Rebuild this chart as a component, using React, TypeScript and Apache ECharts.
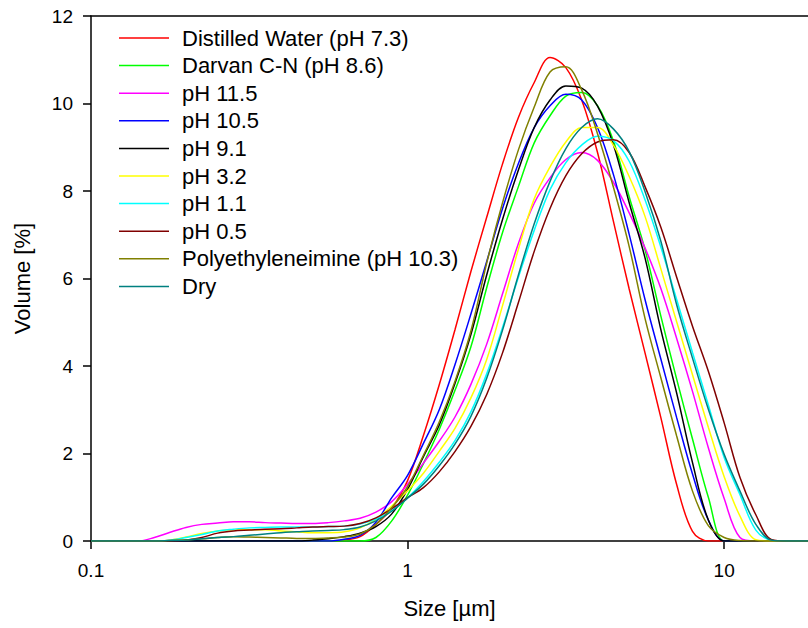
import React, { useEffect, useRef } from "react";
import * as echarts from "echarts";

// particle size grid (µm)
const sizes = [
  0.1, 0.1122, 0.1259, 0.1413, 0.1585, 0.1778, 0.1995, 0.2239, 0.2512, 0.2818,
  0.3162, 0.3548, 0.3981, 0.4467, 0.5012, 0.5623, 0.631, 0.7079, 0.7943, 0.8913,
  1, 1.122, 1.259, 1.413, 1.585, 1.778, 1.995, 2.239, 2.512, 2.818,
  3.162, 3.548, 3.981, 4.467, 5.012, 5.623, 6.31, 7.079, 7.943, 8.913,
  10, 11.22, 12.59, 14.13, 15.85, 17.78, 18.4,
];

const distilledWater = [
  0, 0, 0, 0, 0, 0, 0, 0, 0, 0,
  0, 0, 0, 0, 0, 0, 0.02, 0.1, 0.38, 0.75,
  1.38, 2.41, 3.57, 4.84, 6.16, 7.4, 8.62, 9.68, 10.48, 11.05,
  10.82, 10.08, 8.88, 7.31, 5.76, 4.3, 2.82, 1.29, 0.22, 0,
  0, 0, 0, 0, 0, 0, 0,
];
const darvan = [
  0, 0, 0, 0, 0, 0, 0, 0, 0, 0,
  0, 0, 0, 0, 0, 0, 0, 0, 0.08, 0.46,
  1.05, 1.77, 2.55, 3.45, 4.44, 5.79, 7.05, 8.1, 9.1, 9.72,
  10.17, 10.25, 9.95, 9.15, 7.87, 6.66, 5.14, 3.7, 2.33, 1.0,
  0, 0, 0, 0, 0, 0, 0,
];
const ph115 = [
  0, 0, 0, 0, 0.08, 0.2, 0.31, 0.38, 0.41, 0.44,
  0.44, 0.42, 0.41, 0.4, 0.4, 0.42, 0.46, 0.52, 0.66, 0.9,
  1.3, 1.78, 2.28, 2.84, 3.58, 4.5, 5.65, 6.8, 7.72, 8.3,
  8.72, 8.88, 8.7, 8.2, 7.5, 6.7, 5.77, 4.63, 3.42, 2.13,
  0.97, 0.08, 0, 0, 0, 0, 0,
];
const ph105 = [
  0, 0, 0, 0, 0, 0, 0, 0, 0, 0,
  0, 0, 0, 0, 0, 0, 0.04, 0.13, 0.43, 0.99,
  1.5, 2.23, 3.0, 4.04, 5.19, 6.39, 7.6, 8.63, 9.45, 9.95,
  10.21, 10.08, 9.45, 8.38, 7.01, 5.52, 4.16, 2.82, 1.53, 0.48,
  0, 0, 0, 0, 0, 0, 0,
];
const ph91 = [
  0, 0, 0, 0, 0, 0, 0, 0, 0, 0,
  0, 0, 0, 0, 0.02, 0.05, 0.1, 0.18, 0.33, 0.62,
  1.18, 1.93, 2.65, 3.61, 4.72, 6.08, 7.35, 8.48, 9.45, 10.08,
  10.4, 10.35, 9.94, 9.06, 7.73, 6.47, 4.83, 3.38, 1.79, 0.48,
  0, 0, 0, 0, 0, 0, 0,
];
const ph32 = [
  0, 0, 0, 0, 0, 0.02, 0.09, 0.17, 0.23, 0.26,
  0.26, 0.26, 0.23, 0.21, 0.19, 0.19, 0.21, 0.3, 0.5, 0.8,
  1.15, 1.55, 2.05, 2.58, 3.27, 4.15, 5.38, 6.67, 7.82, 8.55,
  9.12, 9.45, 9.45, 9.05, 8.33, 7.42, 6.22, 5.01, 3.8, 2.6,
  1.47, 0.57, 0.03, 0, 0, 0, 0,
];
const ph11 = [
  0, 0, 0, 0, 0, 0.02, 0.08, 0.15, 0.23, 0.27,
  0.3, 0.31, 0.32, 0.32, 0.32, 0.33, 0.34, 0.39, 0.5, 0.7,
  0.99, 1.36, 1.8, 2.3, 2.95, 3.82, 4.88, 6.03, 7.1, 8.03,
  8.65, 9.05, 9.25, 9.15, 8.68, 7.8, 6.72, 5.52, 4.31, 3.11,
  1.91, 1.06, 0.25, 0.02, 0, 0, 0,
];
const ph05 = [
  0, 0, 0, 0, 0, 0, 0.02, 0.08, 0.18, 0.23,
  0.25, 0.27, 0.28, 0.3, 0.32, 0.33, 0.34, 0.4, 0.53, 0.74,
  0.99, 1.22, 1.58, 2.05, 2.62, 3.35, 4.3, 5.45, 6.62, 7.6,
  8.35, 8.85, 9.12, 9.17, 8.88, 8.1, 7.17, 6.03, 4.91, 3.88,
  2.7, 1.45, 0.6, 0.03, 0, 0, 0,
];
const pei = [
  0, 0, 0, 0, 0, 0.01, 0.03, 0.05, 0.08, 0.1,
  0.09, 0.08, 0.07, 0.06, 0.06, 0.07, 0.09, 0.16, 0.38, 0.76,
  1.24, 1.96, 2.72, 3.66, 4.8, 6.35, 7.73, 8.94, 9.92, 10.72,
  10.84, 10.31, 9.31, 8.09, 6.73, 5.09, 3.73, 2.4, 1.14, 0.35,
  0.08, 0.01, 0, 0, 0, 0, 0,
];
const dry = [
  0, 0, 0, 0, 0, 0.01, 0.02, 0.05, 0.08, 0.1,
  0.13, 0.16, 0.19, 0.21, 0.23, 0.24, 0.26, 0.32, 0.46, 0.68,
  0.98, 1.3, 1.72, 2.22, 2.85, 3.72, 4.82, 6.08, 7.25, 8.22,
  8.97, 9.45, 9.65, 9.42, 8.9, 7.99, 6.85, 5.4, 4.18, 3.01,
  1.98, 1.14, 0.38, 0.02, 0, 0, 0,
];

const seriesNames = [
  "Distilled Water (pH 7.3)",
  "Darvan C-N (pH 8.6)",
  "pH 11.5",
  "pH 10.5",
  "pH 9.1",
  "pH 3.2",
  "pH 1.1",
  "pH 0.5",
  "Polyethyleneimine (pH 10.3)",
  "Dry",
];
const seriesValues = [distilledWater, darvan, ph115, ph105, ph91, ph32, ph11, ph05, pei, dry];
const seriesColors = [
  "#ff0000", "#00ff00", "#ff00ff", "#0000ff", "#000000",
  "#ffff00", "#00ffff", "#800000", "#808000", "#008080",
];

const xTickLabels = ["0.1", "1", "10"];
const xMin = 0.1;
const xMax = 18.4;
const yMin = 0;
const yMax = 12;
const yStep = 2;

const FONT = "'Liberation Sans', Arial, sans-serif";

export default function App() {
  const ref = useRef<HTMLDivElement>(null);
  useEffect(() => {
    if (!ref.current) return;
    const chart = echarts.init(ref.current, null, { renderer: "svg" });
    const series = seriesNames.map((name, i) => ({
      name,
      type: "line",
      data: sizes.map((s, j) => [s, seriesValues[i][j]]),
      symbol: "none",
      showSymbol: false,
      smooth: 0.35,
      clip: true,
      color: seriesColors[i],
      lineStyle: { width: 1.5, color: seriesColors[i] },
    }));
    chart.setOption({
      animation: false,
      backgroundColor: "#ffffff",
      textStyle: { fontFamily: FONT },
      grid: { left: 91, right: 0, top: 16, bottom: 87, containLabel: false },
      legend: {
        orient: "vertical",
        left: 114,
        top: 22,
        icon: "rect",
        itemWidth: 50,
        itemHeight: 1.5,
        itemGap: 5.6,
        selectedMode: false,
        data: seriesNames,
        textStyle: {
          fontSize: 22,
          lineHeight: 22,
          fontFamily: FONT,
          color: "#000",
          padding: [0, 0, 0, 8],
        },
      },
      xAxis: [
        {
          type: "log",
          logBase: 10,
          min: xMin,
          max: xMax,
          axisLine: { show: true, lineStyle: { color: "#000", width: 1.5 } },
          axisTick: { show: true, length: 8, lineStyle: { color: "#000", width: 1.5 } },
          axisLabel: {
            showMaxLabel: false,
            fontSize: 19,
            color: "#000",
            fontFamily: FONT,
            margin: 20,
            formatter: (v: number) => {
              const s = xTickLabels.find((t) => Math.abs(parseFloat(t) - v) < 1e-6 * Math.max(1, v));
              return s ?? "";
            },
          },
          splitLine: { show: false },
          name: "Size [µm]",
          nameLocation: "middle",
          nameGap: 56,
          nameTextStyle: { fontSize: 22, color: "#000", fontFamily: FONT },
        },
        {
          type: "value",
          position: "top",
          min: 0,
          max: 1,
          axisLine: { show: true, lineStyle: { color: "#000", width: 1.5 } },
          axisTick: { show: false },
          axisLabel: { show: false },
          splitLine: { show: false },
        },
      ],
      yAxis: {
        type: "value",
        min: yMin,
        max: yMax,
        interval: yStep,
        axisLine: { show: true, lineStyle: { color: "#000", width: 1.5 } },
        axisTick: { show: true, length: 8, lineStyle: { color: "#000", width: 1.5 } },
        axisLabel: { fontSize: 19, color: "#000", fontFamily: FONT, margin: 18 },
        splitLine: { show: false },
        name: "Volume [%]",
        nameLocation: "middle",
        nameGap: 58,
        nameTextStyle: { fontSize: 22, color: "#000", fontFamily: FONT },
      },
      series,
    });
    return () => chart.dispose();
  }, []);
  return (
    <div
      ref={ref}
      style={{ position: "fixed", left: 0, top: 0, width: 808, height: 628, background: "#fff" }}
    />
  );
}
